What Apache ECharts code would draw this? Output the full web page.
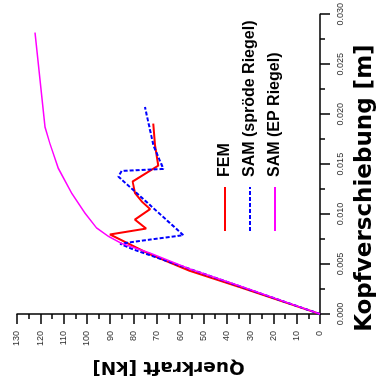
<!DOCTYPE html>
<html><head><meta charset="utf-8">
<script src="https://cdn.jsdelivr.net/npm/echarts@6/dist/echarts.min.js"></script>
<style>
html,body{margin:0;padding:0;width:383px;height:392px;overflow:hidden;background:#fff}
#c{position:absolute;left:0;top:0;width:392px;height:383px;transform-origin:0 0;transform:translate(0,392px) rotate(-90deg);}
</style></head><body><div id="c"></div>
<script>
const seriesNames = ['FEM', 'SAM (spröde Riegel)', 'SAM (EP Riegel)'];
const xAxisTitle = 'Kopfverschiebung [m]';
const yAxisTitle = 'Querkraft [kN]';

const femDisp  = [0, 0.00268, 0.00431, 0.00597, 0.00796, 0.00855, 0.00945, 0.0105, 0.01127, 0.0121, 0.01326, 0.01485, 0.0169, 0.01906];
const femForce = [0, 34.3, 55.8, 72.9, 90.1, 74.6, 79.4, 72.9, 76.5, 79.4, 80.4, 69.4, 70.8, 71.5];

const sprDisp  = [0, 0.0045, 0.00646, 0.00703, 0.00736, 0.00789, 0.01375, 0.01432, 0.01452, 0.0169, 0.02072];
const sprForce = [0, 55.8, 80.1, 85.8, 75.8, 58.6, 86.5, 85.1, 67.2, 71.5, 75.1];

const epDisp  = [0, 0.0028, 0.0045, 0.0061, 0.00706, 0.00779, 0.00862, 0.01011, 0.0121, 0.01459, 0.01707, 0.01872, 0.02817];
const epForce = [0, 34.3, 55.8, 72.9, 85.1, 90.9, 95.9, 100.9, 106.6, 112.3, 115.9, 118.0, 122.3];

const zip = (a, b) => a.map((v, i) => [v, b[i]]);

const chart = echarts.init(document.getElementById('c'));
const tickStyle = {color: '#000', width: 1.5};
chart.setOption({
  animation: false,
  backgroundColor: '#fff',
  grid: {left: 78, right: 13, top: 17, bottom: 63, containLabel: false},
  legend: {
    orient: 'vertical', left: 160, top: 217, padding: 0,
    itemWidth: 44, itemHeight: 10, itemGap: 9,
    itemStyle: {opacity: 0},
    textStyle: {fontFamily: 'Liberation Sans', fontWeight: 'bold', fontSize: 16, lineHeight: 16, color: '#000', padding: [0, 0, 0, 5]},
    data: seriesNames
  },
  xAxis: {
    type: 'value', min: 0, max: 0.03, interval: 0.005,
    name: xAxisTitle, nameLocation: 'middle', nameGap: 34,
    nameTextStyle: {fontFamily: 'DejaVu Sans', fontWeight: 'bold', fontSize: 23, color: '#000', padding: [0, 48, 0, 0]},
    axisLine: {lineStyle: tickStyle},
    axisTick: {length: 10, lineStyle: tickStyle},
    minorTick: {show: true, splitNumber: 2, length: 5, lineStyle: tickStyle},
    axisLabel: {margin: 16, fontSize: 9, color: '#333', fontFamily: 'Liberation Sans', formatter: v => v.toFixed(3)},
    splitLine: {show: false}, minorSplitLine: {show: false}
  },
  yAxis: {
    type: 'value', min: 0, max: 130, interval: 10,
    name: yAxisTitle, nameLocation: 'middle', nameGap: 43, nameRotate: 90,
    nameTextStyle: {fontFamily: 'DejaVu Sans', fontWeight: 'bold', fontSize: 18.5, color: '#000'},
    axisLine: {show: true, lineStyle: tickStyle},
    axisTick: {show: true, length: 10, lineStyle: tickStyle},
    minorTick: {show: true, splitNumber: 2, length: 5, lineStyle: tickStyle},
    axisLabel: {margin: 17, fontSize: 9, color: '#333', fontFamily: 'Liberation Sans'},
    splitLine: {show: false}, minorSplitLine: {show: false}
  },
  series: [
    {name: seriesNames[0], type: 'line', data: zip(femDisp, femForce), symbol: 'none', color: '#ff0000',
     lineStyle: {color: '#ff0000', width: 2}},
    {name: seriesNames[1], type: 'line', data: zip(sprDisp, sprForce), symbol: 'none', color: '#0000ff',
     lineStyle: {color: '#0000ff', width: 2, type: [4, 2]}},
    {name: seriesNames[2], type: 'line', data: zip(epDisp, epForce), symbol: 'none', color: '#ff00ff',
     lineStyle: {color: '#ff00ff', width: 1.5}}
  ]
});
</script></body></html>
